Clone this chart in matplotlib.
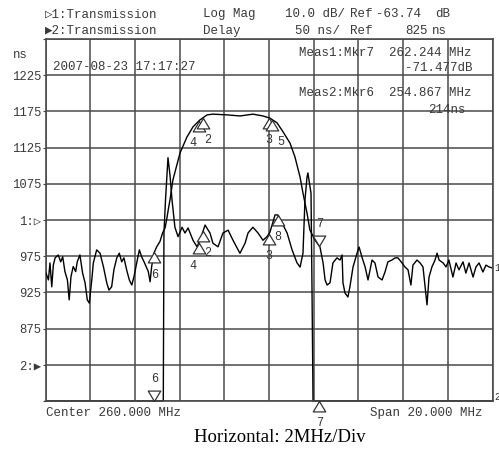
import matplotlib
matplotlib.use('Agg')
import matplotlib.pyplot as plt
import numpy as np
from matplotlib.path import Path

plt.rcParams['font.family'] = ['Liberation Mono', 'DejaVu Sans Mono', 'DejaVu Sans']

# trace 1: transmission, log mag (dB)
t1_freq = [250.00, 250.13, 250.20, 250.28, 250.35, 250.43, 250.57, 250.68, 250.77, 250.87,
           250.98, 251.06, 251.14, 251.24, 251.35, 251.42, 251.54, 251.66, 251.77, 251.87,
           251.96, 252.07, 252.14, 252.29, 252.44, 252.59, 252.74, 252.84, 252.96, 253.06,
           253.19, 253.30, 253.41, 253.51, 253.63, 253.75, 253.86, 253.96, 254.08, 254.20,
           254.30, 254.41, 254.50, 254.60, 254.68, 254.75, 254.85, 254.98, 255.12, 255.24,
           255.35, 255.42, 255.49, 255.57, 255.70, 256.02, 256.33, 256.60, 256.91, 257.23,
           257.49, 258.12, 258.70, 259.28, 259.73, 260.04, 260.36, 260.63, 260.94, 261.16,
           261.39, 261.52, 261.70, 261.83, 262.06, 262.28, 262.42, 262.51, 262.60, 262.73,
           262.86, 263.04, 263.18, 263.27, 263.31, 263.40, 263.53, 263.62, 263.76, 263.94,
           264.03, 264.16, 264.30, 264.43, 264.61, 264.74, 264.88, 265.06, 265.19, 265.32,
           265.50, 265.64, 265.77, 265.95, 266.08, 266.22, 266.35, 266.44, 266.62, 266.76,
           266.89, 267.07, 267.16, 267.29, 267.43, 267.52, 267.61, 267.79, 267.92, 268.05,
           268.23, 268.37, 268.50, 268.68, 268.81, 268.95, 269.13, 269.26, 269.40, 269.57,
           269.71, 269.84, 270.00]
t1_db = [-78.0, -80.3, -75.6, -82.2, -76.2, -74.2, -73.4, -75.3, -73.9, -78.0,
         -80.3, -85.8, -79.4, -76.6, -78.0, -75.3, -73.4, -78.4, -81.1, -85.8,
         -86.7, -80.3, -75.6, -72.0, -72.9, -76.6, -81.1, -83.1, -82.2, -77.5,
         -74.2, -72.9, -75.3, -74.2, -77.5, -80.3, -81.7, -79.4, -75.6, -72.0,
         -73.9, -75.3, -76.6, -78.0, -80.8, -76.6, -72.9, -71.1, -69.7, -67.3,
         -65.9, -63.7, -61.0, -58.2, -52.7, -45.2, -40.8, -38.0, -36.1, -34.7,
         -34.5, -34.7, -35.0, -34.5, -35.0, -35.6, -36.9, -39.4, -42.5, -46.3,
         -51.9, -56.3, -61.8, -66.5, -69.3, -71.2, -75.6, -80.3, -81.7, -81.1,
         -75.6, -74.2, -74.8, -73.4, -81.1, -83.9, -85.0, -82.2, -76.7, -72.9,
         -71.2, -74.0, -76.7, -80.3, -74.8, -75.6, -79.5, -80.3, -78.1, -75.3,
         -74.8, -74.2, -74.2, -75.6, -76.7, -77.5, -81.7, -76.2, -74.8, -75.6,
         -76.7, -87.2, -79.5, -76.7, -74.8, -72.9, -74.8, -75.6, -76.7, -74.8,
         -79.5, -75.6, -77.5, -75.3, -78.4, -75.6, -79.5, -76.7, -75.6, -78.1,
         -76.2, -76.7, -77.0]

# trace 2: transmission, group delay (ns); far below scale outside the passband
t2_freq = [250.00, 254.867, 255.27, 255.30, 255.37, 255.48, 255.57, 255.66, 255.79, 255.93,
           256.11, 256.24, 256.38, 256.60, 256.78, 256.91, 257.14, 257.36, 257.49, 257.72,
           257.94, 258.17, 258.39, 258.70, 258.93, 259.06, 259.28, 259.51, 259.73, 259.91,
           260.04, 260.27, 260.40, 260.58, 260.81, 261.03, 261.25, 261.39, 261.52, 261.61,
           261.70, 261.74, 261.88, 261.92, 261.97, 262.244, 270.00]
t2_delay = [214, 214, 214, 1007, 1053, 1111, 1087, 1053, 1015, 1002,
            1015, 1007, 1014, 997, 988, 997, 1018, 1007, 993, 988,
            1007, 1011, 997, 979, 993, 1007, 1015, 1007, 997, 1002,
            1008, 1032, 1032, 1021, 1007, 984, 966, 960, 979, 1053,
            1084, 1090, 1062, 942, 214, 214, 214]

# markers (MHz)
mkr_freq = {'2': 257.05, '3': 260.0, '4': 256.85, '5': 260.15, '6': 254.867, '7': 262.244, '8': 260.40}

W, H = 499, 455
fig = plt.figure(figsize=(W / 100, H / 100), dpi=100)
ax = fig.add_axes([45.5 / W, 1 - 401 / H, 447 / W, 362 / H])
ax.set_xlim(250, 270)
ax.set_ylim(775, 1275)
ax.set_xticks(np.arange(250, 271, 2))
ax.set_xticklabels([])
ax.set_yticks(np.arange(775, 1276, 50))
ax.set_yticklabels(['', '2:\u25b6', '875', '925', '975', '1:\u25b7', '1075', '1125', '1175', '1225', ''])
ax.tick_params(axis='x', length=0)
ax.tick_params(axis='y', length=2.5, pad=0.5, labelsize=8.8, colors='#444', labelcolor='#3a3a3a')
ax.grid(True, color='#4a4a4a', lw=1.1)
for s in ax.spines.values():
    s.set_color('#4a4a4a')
    s.set_linewidth(1.2)

ax2 = ax.twinx()
ax2.set_ylim(-113.74, -13.74)
ax2.set_yticks([])
for s in ax2.spines.values():
    s.set_visible(False)

ax2.plot(t1_freq, t1_db, color='black', lw=1.0)
d2 = np.clip(t2_delay, 775, 1275)
ax.plot(t2_freq, d2, color='black', lw=1.0, clip_on=False)

up = Path([(0, 0), (-0.6, -1), (0.6, -1), (0, 0)])
down = Path([(0, 0), (-0.6, 1), (0.6, 1), (0, 0)])


def marker(axis, fx, fy, key, active=False, dx=0):
    f = mkr_freq[key]
    v = np.interp(f, fx, fy)
    axis.plot([f], [v], marker=down if active else up, ms=15, mfc='white', mec='#333',
              mew=0.9, clip_on=False, zorder=5)
    axis.annotate(key, (f, v), xytext=(dx, 16 if active else -16), textcoords='offset points',
                  ha='center', va='center', fontsize=8.5, color='#333', annotation_clip=False)


marker(ax2, t1_freq, t1_db, '4', dx=-4)
marker(ax2, t1_freq, t1_db, '2', dx=3)
marker(ax2, t1_freq, t1_db, '3')
marker(ax2, t1_freq, t1_db, '5', dx=6)
marker(ax2, t1_freq, t1_db, '6')
marker(ax2, t1_freq, t1_db, '7', active=True)
marker(ax, t2_freq, d2, '4', dx=-4)
marker(ax, t2_freq, d2, '2', dx=3)
marker(ax, t2_freq, d2, '3')
marker(ax, t2_freq, d2, '8')
marker(ax, t2_freq, d2, '6', active=True)
marker(ax, t2_freq, d2, '7')

ax2.annotate('1', (t1_freq[-1], t1_db[-1]), xytext=(1, 0), textcoords='offset points',
             ha='left', va='center', fontsize=7, color='#333', annotation_clip=False)
ax.annotate('2', (t2_freq[-1], d2[-1]), xytext=(1, 3), textcoords='offset points',
            ha='left', va='center', fontsize=7, color='#333', annotation_clip=False)


def txt(x, y, s, **kw):
    kw.setdefault('fontsize', 9)
    kw.setdefault('color', '#3a3a3a')
    fig.text(x / W, 1 - y / H, s, va='center', **kw)


txt(45, 14, '\u25b71:Transmission')
txt(203, 14, 'Log Mag')
txt(285, 14, '10.0 dB/')
txt(350, 14, 'Ref')
txt(376, 14, '-63.74')
txt(435, 14, 'dB')
txt(45, 31, '\u25b62:Transmission')
txt(203, 31, 'Delay')
txt(295, 31, '50 ns/')
txt(350, 31, 'Ref')
txt(405, 31, '825')
txt(432, 31, 'ns')
txt(13, 55, 'ns', fontsize=8.8)
txt(53, 67, '2007-08-23 17:17:27')
txt(299, 53, 'Meas1:Mkr7  262.244 MHz')
txt(405, 68, '-71.477dB')
txt(299, 93, 'Meas2:Mkr6  254.867 MHz')
txt(428, 110, '214ns')
txt(46, 413, 'Center 260.000 MHz')
txt(370, 413, 'Span 20.000 MHz')
txt(280, 437, 'Horizontal: 2MHz/Div', ha='center', fontsize=13.5, color='black',
    family='Liberation Serif')

fig.savefig('out.png', dpi=100)
